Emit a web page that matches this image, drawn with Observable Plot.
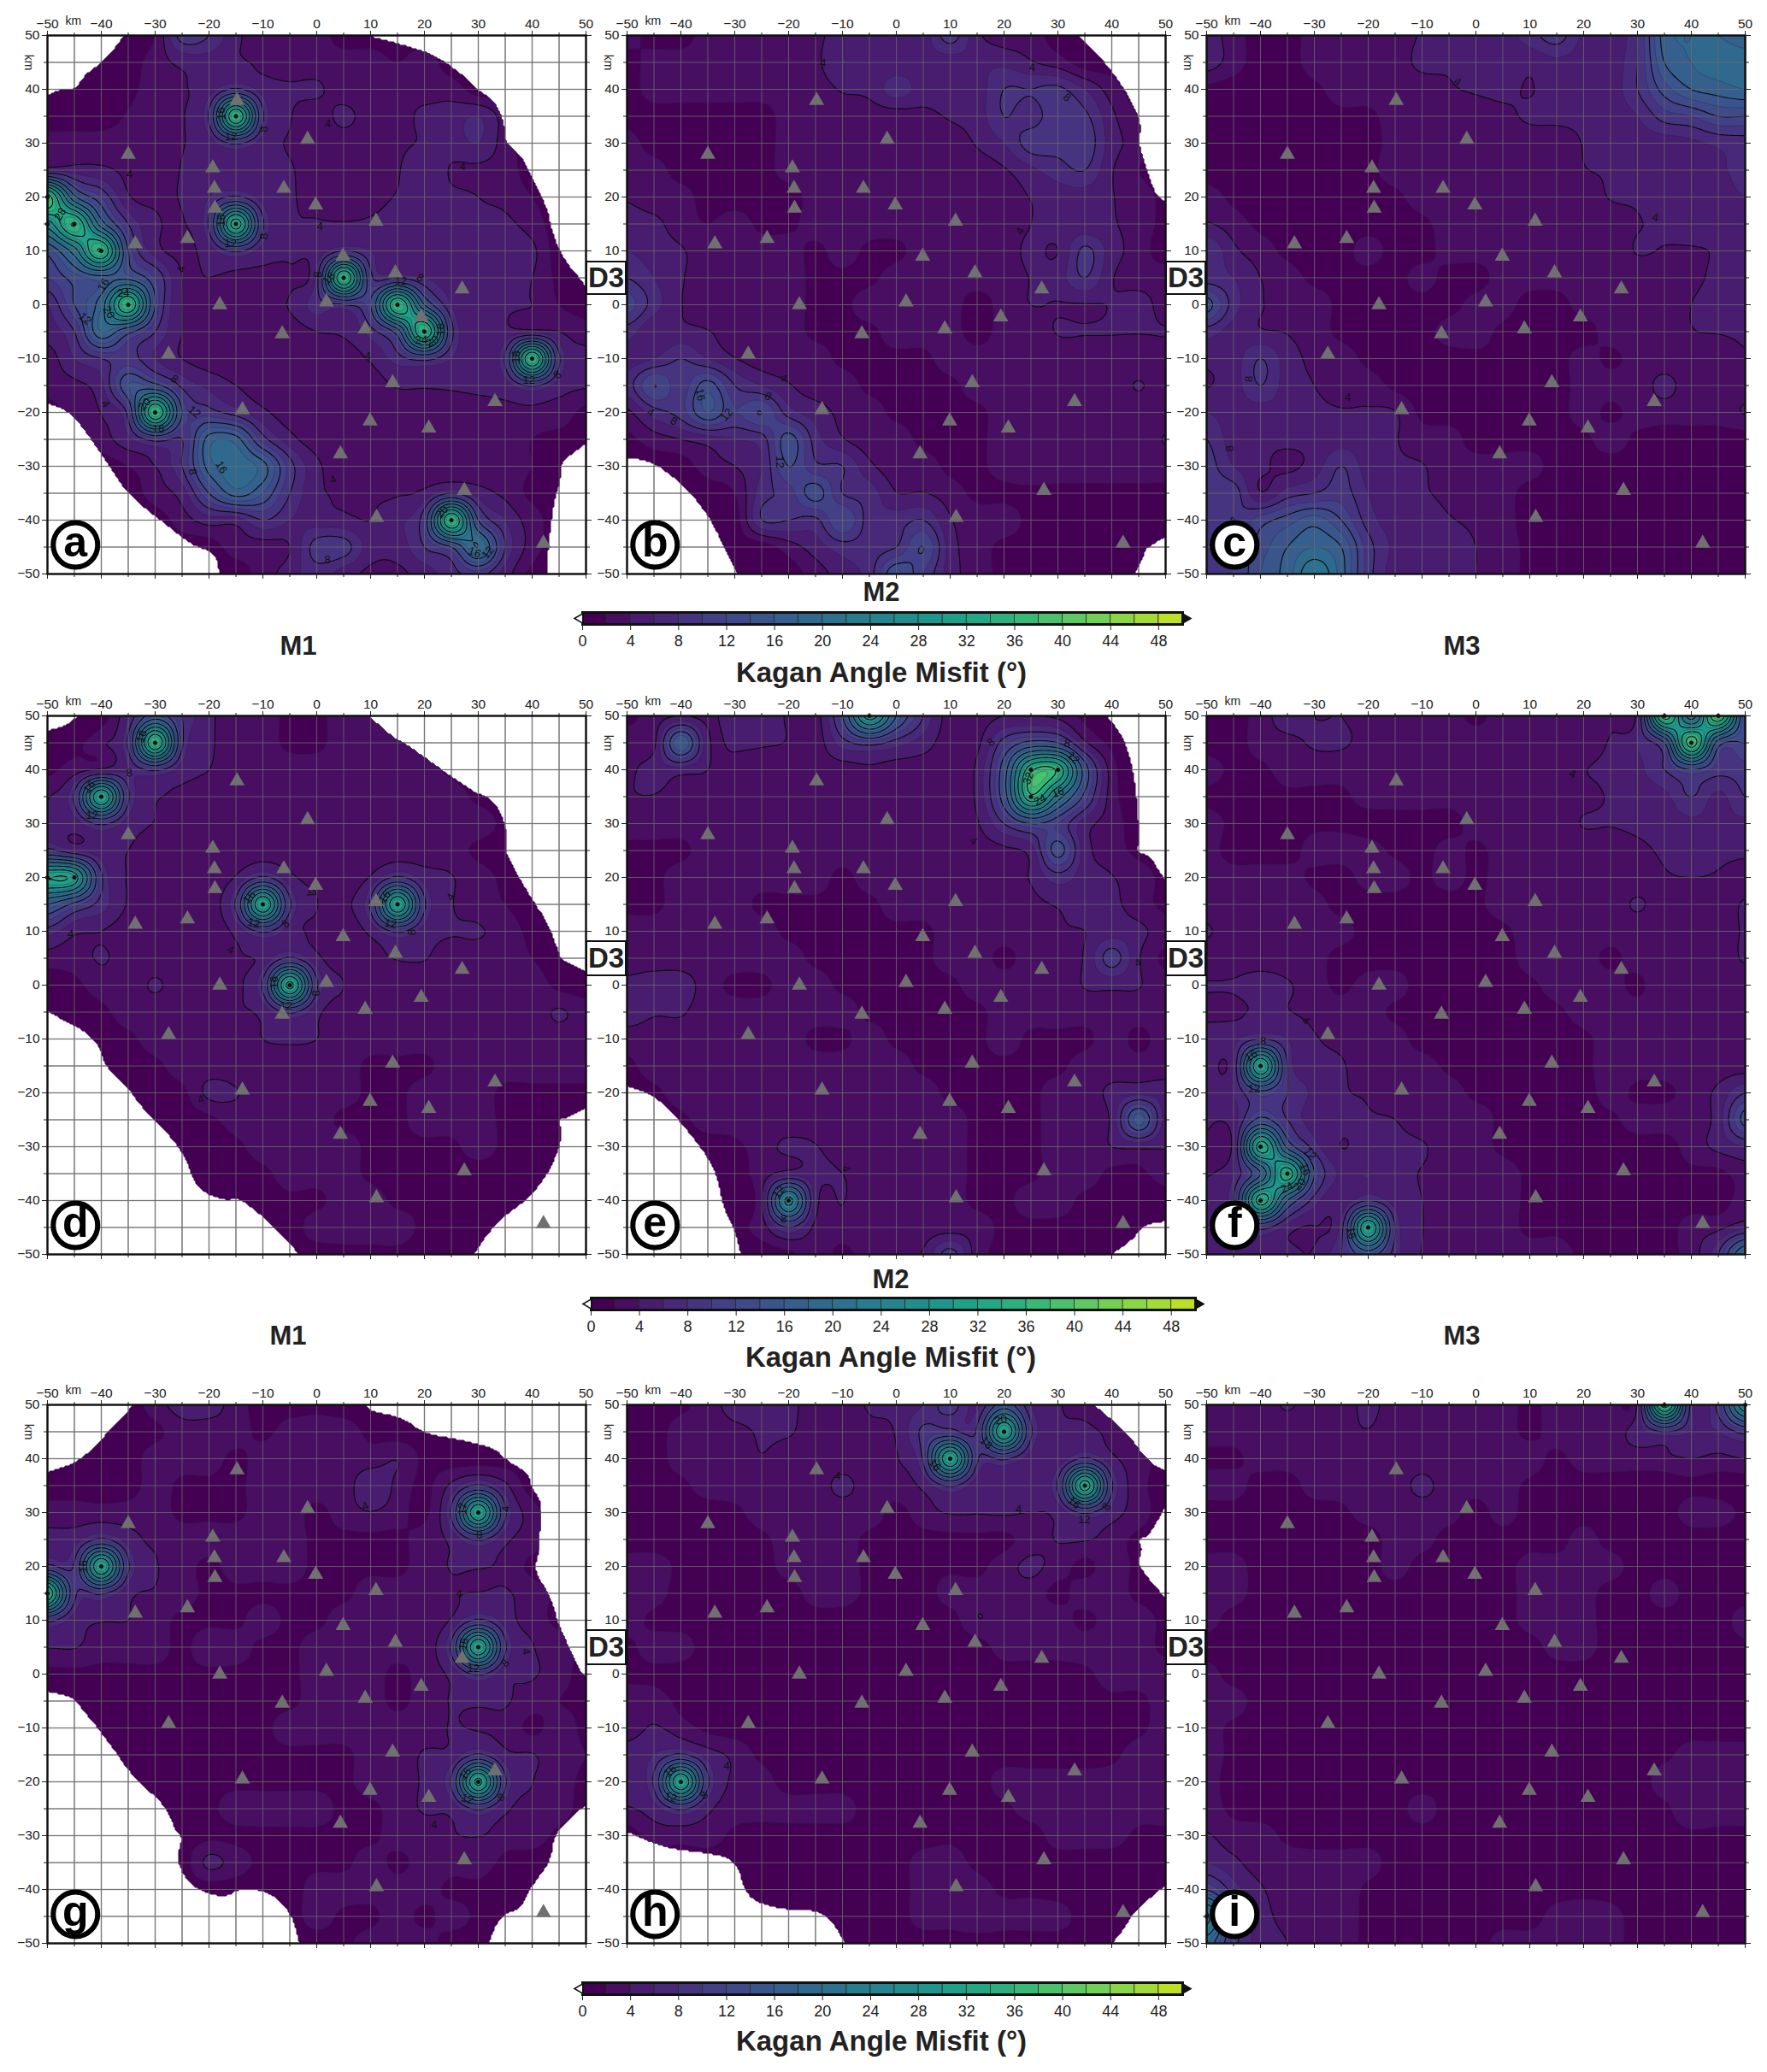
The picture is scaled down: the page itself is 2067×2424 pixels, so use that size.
<!DOCTYPE html>
<html><head><meta charset="utf-8">
<script src="https://cdn.jsdelivr.net/npm/d3@7"></script>
<script src="https://cdn.jsdelivr.net/npm/@observablehq/plot@0.6"></script>
<style>
html,body{margin:0;padding:0;background:#fff}
#page{position:relative;width:2067px;height:2424px;overflow:hidden;font-family:"Liberation Sans",sans-serif;color:#222}
#page>svg,#page>figure{position:absolute;margin:0}
.t{position:absolute;transform:translate(-50%,-50%);font-weight:bold;white-space:nowrap}
.d3{position:absolute;box-sizing:border-box;background:#fff;border:2px solid #111;display:flex;align-items:center;justify-content:center;font-weight:bold;font-size:33px;color:#222}
</style></head><body><div id="page"></div>
<script>
const tick10=[-50,-40,-30,-20,-10,0,10,20,30,40,50];
const tick5=[-45,-35,-25,-15,-5,5,15,25,35,45];
const stationX=[-14.8,-1.7,-35,-19.3,-19,-6.1,-18.9,-0.2,11,-24,-33.7,4.9,14.6,27,-18,1.8,19.4,-6.4,9,-27.5,14.1,33.1,-13.8,9.9,20.8,4.4,27.4,11.1,42.1];
const stationY=[37.9,30.7,27.9,25.4,21.6,21.6,17.9,18.5,15.5,12.3,11.3,9,5.9,2.9,0,0.5,-2.3,-5.4,-4.5,-9.2,-14.5,-18,-19.5,-21.6,-22.9,-27.7,-34.5,-39.5,-44.3];
const barTicks=[0,4,8,12,16,20,24,28,32,36,40,44,48];
const bandLow=d3.range(0,50,2);

// Misfit on the 5 km grid: rows y = 50 … -50, columns x = -50 … 50
const gridA=[
[1,1,1,1,2,9,8,4.5,3,3,3,1,1,1,1,1,1,1,1,1,1],
[1,1,1,1,3,4.5,5,4.5,3.5,3,3,3,3,2,3,1,1,1,1,1,1],
[1,1,1,1.5,3,3.8,5,8.5,5,4.3,4.3,3,3,3.9,3,3,1,1,1,1,1],
[1,1,1,2.2,3,3.8,8.5,36,8.5,4.2,3,4.5,3,3,4.6,5,6,3,1,1,1],
[3,3,3,3,3,3.9,5,8.5,5,3.8,3,3,3,3.5,4.3,5,6,3,1,1,1],
[5.5,5,4.5,3.5,3,4.1,5,5,5,4.2,3,3,3,3.8,6,3.8,3.5,3,1,1,1],
[38,17,10,4.3,3.5,4.2,6,8.5,5,4.3,3,3,3.5,4.1,4.5,4.5,4,3.5,2,1,1],
[26,36,18,8,4.5,3.8,8.5,34,8.5,4.5,4.2,4.2,4.3,4.5,4.5,6,4.5,4.5,3,1,1],
[13,22,36,12,5,3.5,5,8.5,5,4.5,4.5,8,6,5,5,4.5,4.5,6,4.5,1,1],
[10,13,15,15,10,4,4,3.5,3.5,3.5,7,36,9,8,6,5,6,4.5,4,1.5,1],
[6,12,18,36,12,4,3,3,3,4.2,7,8,12,36,16,6,4.5,4.3,4,2,1],
[5,8,18,13,8,4,3,2,3,3,4,4.5,7,14,36,9,5,4.5,5,4,3],
[3,6,8,9,6,4,3,3,3,3,3,3,4.3,7,9,6,4.8,8.5,36,8.5,4.5],
[3,3.5,5.5,14,13,7.5,5.5,4,3,3,3,3,3,4.2,4.3,4.3,4.5,5,8.5,5,4.2],
[1,3,4.1,9,36,12,9,7,4.5,3,3,3,3,3,3,3,3,3.5,3.5,3,1.5],
[1,1,3,5.5,9,8,17,17,9,4.8,3,3,3,3,3,3.9,3,3,2,1.5,1.5],
[1,1,1,2,4,8,17,19,17,9,4.5,3,3,3,3,3,3,3,2,1,1],
[1,1,1,1,3,5,12,17,14,8,4.5,3.8,3.8,3.8,4.5,8,5,3.5,1.5,1,1],
[1,1,1,1,1,3,5,5,8,6,5,4.5,4,5.5,10,36,12,6,3,1,1],
[1,1,1,1,1,1,1,3,3,4,9,9,5,5,8,12,20,8,3,1,1],
[1,1,1,1,1,1,1,1,3,5,7,5,3.5,3.5,5,7,9,5,1.5,1,1]];
const gridB=[
[3,1,1,3,3,3,3,3.5,5,5,4.5,5,9,4.5,3,3,1,1,1,1,1],
[1,3,3,3,3,3,3,3.5,6,4.5,4.5,5,5,5.5,5.5,4.2,3,1,1,1,1],
[1,3,3,3,3,3,3,3,4.2,4.5,7,5,5,5,8,8,8.5,6,3,1,1],
[1,1,1,1,1,1,3,3,3,3,3,3.5,4.2,5,8,7,9.5,8.5,4.5,2,1],
[3,1,1,1,1,1,3,3,3,3,3,3,3,4.2,6,9,9,9.5,5,3,1],
[3,3,1,1,1,1,3,3,3,3,3,3,3,3,3.8,5.5,7,8,4.2,2,1],
[3.8,3,3,1,1,1,1,3,3,3,3,3,3,3,3,4.1,5,5,4.1,3,1.5],
[5,4.5,3,2,3,1.5,1.5,3,3,3,3,3,3,3,3,4,5,4.5,4.2,3,1.5],
[6,5,4.2,3,3,3,3,1.5,3,1.5,1.5,3,3,3,3,4.5,4,8.5,5,3,1],
[8,6,4.2,3,3,3,3,1.5,1.5,1.5,3,3,3,3,3,4.1,5,8,4.2,3,3],
[11,7,4.1,3,3,3,3,1.5,1.5,3,3,3,3,1,3,4,3.9,3.9,4.1,5,3],
[7,4.2,4.5,4.1,3,3,3,1.5,1.5,1.5,3,3,3,1,3,3,4.1,4.1,4.1,4.1,4.1],
[5,6,8,6,4.1,3,3,3,1.5,1.5,1.5,1.5,3,3,3,3,3,3,3,3,3],
[7,12,9,13,8,6,4.2,3,3,1.5,1.5,1.5,1.5,3,3,3,3,3,3,4.1,3],
[3.5,7,9,14,10,12,7,5,3.5,3,1.5,1.5,1.5,1.5,3,3,3,3,3,3,3],
[1.5,3,4,5,6,7,13,7,4.2,3,3,1.5,1.5,1.5,3,3,3,3,3,3,4.1],
[1,1,1,3,4,6,12,8.5,8,4.5,3,3,1.5,1.5,3,3.5,3,3,3,3,3],
[1,1,1,1,2,7,9,13,8,7,4.1,4.1,3,1.5,1.5,1.5,1.5,1.5,1.5,1.5,1.5],
[1,1,1,1,1,7.9,8,7.5,12,7,7,8,4.2,3,3,1.5,1.5,1.5,1.5,1.5,1.5],
[1,1,1,1,1,1,3,5,7,7,8,12,5,3,1.5,1.5,1.5,1,1,1,1],
[1,1,1,1,1,1,1,3,5,7,14,10,5,3,1.5,1.5,1,1,1,1,1]];
const gridC=[
[5,3,1,1,3,3,3,3,4.2,4.5,4.5,5,7,9,5.5,4.5,8,17,18,18,17],
[5,3,1,1,3,3.5,3,3,4.5,4.2,4.5,5,4.5,5.5,5,5,8,16,18,19,19],
[1.5,1,1,1,1.5,3,3,3,3,3.8,4.2,4.5,3.9,5,5,5,8,13,16,17,18],
[1,1,1,1,1,1.5,1.5,3,3,3,3,3.5,4.3,4.5,4.5,5,6,9,10,12,12],
[1,1,1,1,1,1,1,3,3,3,3,3,3,3,4.1,5,5,5,5.5,6.5,7],
[1,1,1,1,1,1,1.5,3,3,3,3,3,3,3,3.9,4.2,4.5,5,5,5.5,7],
[3,1.5,1,1,1,1,1,1.5,3,3,3,3,3,3,3,4.1,4.2,4.5,5,5,6],
[4.2,3,1.5,1.5,1,1,1,1,1.5,3,3,3,3,3,3,3,3.9,4.2,4.5,4.5,5],
[8,4.5,3,1.5,1,1,3,1,1,3,3,3,3,3,3,3,4.1,3.9,3.9,4.1,4.5],
[7,6,4,3,1.5,1.5,1,1,3,1,1,3,3,3,3,3,3,3,3.5,4.5,5],
[13,7,4.2,3.5,3,1.5,1,1,1,1,3,3,1,1,3,3,3,3,4,5,5],
[7,5,4.2,3.9,3,1.5,1,1,1,3,3,1.5,1,1,1,3,3,3,3.9,4.1,4.3],
[4.5,5,8,5,3.5,3,1.5,1,1,1,1.5,1.5,1,1,3,1.5,3,3,3,3,3.8],
[3.9,5,8,5,4,3,3,1.5,1,1,1,1,1,1,3,3,3,4.5,3,3,3],
[6,5,5,5,4.5,4.2,4.2,4.1,1.5,1,1.5,1,1,1,3,1.5,3,3,3,3,4.1],
[8,5,4.5,4.5,4.5,5,4.5,4.1,3,3,1,1,1,1,1.5,3,1.5,1,1,1,1],
[9,6,4.5,3.5,5,8,5,4.2,4.1,3,3,3,3,1,1,1,1,1,1,1,1],
[9,9,4.2,7,8,9,6,4.2,4.2,3.5,3,3,1,1,1,1,1,1,1,1,1],
[10,8,11,13,15,12,7,5,5,4.2,3.5,3,1,1,1,1,1,1,1,1,1],
[10,10,13,16,18,16,9,5.5,5,5.5,4,3,1.5,1,1,1,1,1,1,1.5,1],
[10,10,14,17,22,17,9,5,5,5,4,3,1.5,1,1,1,1,1,1,1,1]];
const gridD=[
[1,1,1,6,14,8,4.5,3,3,1.5,1.5,3,3,1,1,1,1,1,1,1,1],
[1,1.5,3.5,8.5,36,8.5,4.5,3,3,1.5,1.5,3,3,3,1.5,1,1,1,1,1,1],
[1.5,3,4.5,6,8.5,5,4,3,3,3,3,3,3,3,3,1.5,1,1,1,1,1],
[3.8,8.5,32,8.5,4.5,3.5,3,3,3,3,3,3,3,3,3,3,1.5,1,1,1,1],
[4.5,5,8.5,5,3.9,3,3,3,3,3,3,3,3,3,3,3,3,1.5,1,1,1],
[9,6,5,4,3,3,3,3,3,3,3,3,3,3,3,3,1.5,1,1,1,1],
[32,30,8.5,3.8,3,3,3,4.2,8.5,4.5,3.5,3,4.2,8.5,5,4.1,3,1.5,1,1,1],
[16,11,7,3.8,3,3,3,8.5,32,8.5,4.1,3.5,8.5,32,8.5,4.2,3,2,1,1,1],
[7,4.5,4,3,3,3,3,4.5,8.5,5,3.5,3,4.5,8.5,5,4.2,4.2,3,1.5,1,1],
[3,3,4.2,3,3,3,3,3.8,4.5,8.5,4.5,3,3,4.2,4.1,3,3,3,2,1,1],
[1,1.5,3,3,4.2,3,3,3.5,8.5,33,8.5,4,3,3,3,3,3,3,3,1.5,1],
[1,1,1.5,3,3,3,3,3.8,4.5,8.5,4.5,3,3,3,3,3,3,3,3,4.2,3],
[1,1,1,1.5,3,3,3,3,4,4.5,4,3,3,3,3,3,3,3,3,3,3],
[1,1,1,1,1.5,3,3,3,3,3,3,3,1.5,1.5,1.5,3,3,3,3,3,3],
[1,1,1,1,1,1.5,4.5,4.1,3,3,3,3,1.5,1.5,3,3,3,1.5,1.5,1.5,1.5],
[1,1,1,1,1,1,1.5,3,3,3,3,1.5,1.5,1.5,3,3,3,1.5,1,1,1],
[1,1,1,1,1,1,1,1.5,3,3,3,3,1.5,1.5,1.5,1.5,3,1.5,1,1,1],
[1,1,1,1,1,1,1,1,1.5,3,3,3,1.5,1,1,1,1,1,1,1,1],
[1,1,1,1,1,1,1,1,1,1.5,1.5,3,3,1.5,1.5,1,1,1,1,1,1],
[1,1,1,1,1,1,1,1,1,1,3,3,3,3,1.5,1,1,1,1,1,1],
[1,1,1,1,1,1,1,1,1,1,1,1.5,1.5,1.5,1,1,1,1,1,1,1]];
const gridE=[
[1.5,3,4,3.5,5,5,3.8,3,12,30,16,8,3,3,4,4,3.5,1.5,1,1,1],
[3,3.5,16,4.5,4.5,4.2,3.9,3,7,9,7,5,3,3.5,9,13,12,4.5,1.5,1,1],
[3.5,5,5,4,3,3,3,3,3,3.5,3,3,3,4.5,14,35,35,14,3,1,1],
[3.9,3.9,3,3,3,3,3,3,3,3,3,3,3,4.5,14,35,22,11,3,1,1],
[3,3,3,3,3,3,3,3,3,3.5,3,3,3,3.8,8,12,10,5,3,1,1],
[1.5,1.5,1.5,3,3,3,3,3,3,3,3,3,3,3,3.5,5,13,5,3,1.5,1],
[1.5,1.5,3,3,3,3,3,3,1.5,3,3,3,3,3,3,4.2,7,5,4.1,3,1.5],
[1.5,1.5,3,3,3,1.5,1.5,1.5,1.5,1.5,3,3,3,3,3,3.5,4.2,5,4.5,3,1.5],
[3,3,3,3,3,3,1.5,1.5,1.5,1.5,1.5,1.5,3,3,3,3,3.8,4,5,4.5,3],
[3,3,3,3,3,3,3,1.5,1.5,1.5,1.5,1.5,3,3,1.5,3,3.5,4.2,9,4.2,1.5],
[4.5,5,5,3,1.5,1.5,3,3,1.5,1.5,1.5,1.5,1.5,3,3,3,3,4.1,4.5,4.1,3],
[5,4.2,4.2,3,3,3,3,3,3,1.5,1.5,1.5,1.5,1.5,3,3,3,3,3,3,3],
[3,3,3,3,3,3,3,1.5,1.5,3,1.5,1.5,1.5,1.5,3,1.5,1.5,1.5,3,1.5,3],
[1.5,3,3,3,3,3.9,3,3,3,3,3,1.5,1.5,1.5,1.5,1.5,1.5,3,3,3,3],
[1,1.5,3,3,3,3,3,3,3,3,3,3,1.5,1.5,1.5,1.5,3,3,4.5,5.5,5],
[1,1,1.5,3,3,3.9,3,3,3,3,3,3,3,1.5,1.5,1.5,3,3,4.5,15,5],
[1,1,1,1,1.5,3,4.5,4.1,3,3,3,3,3,1.5,1.5,1.5,3,3,4,4.5,4.1],
[1,1,1,1,1,3,5,4.5,4,3,3,3,3,1.5,1.5,1.5,3,3,1.5,1.5,3],
[1,1,1,1,1,4,25,5,4.1,3,3,3,3,1.5,1.5,3,3,1.5,1.5,1,1],
[1,1,1,1,1.5,3,8,3.5,3,3.9,3,3,3,3,1.5,1.5,1.5,1.5,1,1,1],
[1,1,1,1,1,1,1.5,3,1.5,3,3,4.2,9,3,1.5,1.5,1.5,1.5,1.5,1,1]];
const gridF=[
[1,1,3,5,4,4,3.5,3.9,3.9,3,1.5,3,3,3,3,3.5,5,38,18,40,12],
[1,1,3,3.5,4.2,4.2,3.5,3,3,3,3,3,3,3,3,4.2,6,12,38,14,12],
[3,1.5,1.5,3,3,3,3,3,3,3,3,3,3,3,3.9,4.5,5.5,8,12,9,9],
[1.5,1,1,1.5,1.5,1.5,3,3,3,3,3,3,3,3.9,3.5,4.2,5,5.5,8,5.5,8],
[3,1.5,1,1,1.5,1.5,1,1,1,1,3,3,3,3,4.1,4.1,4.5,5,5.5,5.5,5.5],
[3,1,1,1,3,3,3,1.5,1,3,1.5,3,3,3.9,3,3,3.5,4.3,4.5,4.5,4.5],
[3,3,3,3,1.5,1,3,3,1.5,3,1.5,3,3,3,3,3,3,3.8,4,3.8,3],
[3,3,3,3,3,1,1,1,1,1,1.5,3,3,3,3,3,4.2,3,3,3,4.2],
[4.2,3,3,3,3,3,1,1,1,1,1,1.5,3,3,3,3,3,3,3,3,4.2],
[3,3,3,3,3,1,1,1,1,1,1,1,3,3,3,1.5,3,3,3,3,4.2],
[4.1,4.2,5,4.2,3,1.5,3,3,1,1,1,1,1.5,3,3,3,1.5,3.9,3,3,3],
[3.5,3.5,4.5,4.1,3.5,3,3,1.5,1,1,1,1,1,1.5,3,3,3,3,3,3,3],
[5,5.5,8,6,4.2,3.5,3,3,1,1,1,1,1,1,1.5,3,3,3,3,3,3],
[5,6,32,8,5,4.2,3,3,3,1.5,1,1,1,1,1.5,3,3,3,3,3,3],
[4.1,6,11,8,5.5,4.2,3.8,3,3,3,1.5,1.5,1,1,1,3,1.5,1.5,3,4.5,8],
[4.1,5,13,8,5,4.5,4.2,4,3,3,3,1.5,1,1,1,1.5,3,3,3,5,13],
[3.8,5,34,15,7,4,5,4.5,4.2,3,3,1.5,1,1,1,1,1,1,3,4.5,6],
[3.8,6,16,34,12,5.5,6,4.5,3.9,3,3,3,1.5,1,1,1,1,1,1.5,1.5,3],
[6,8,34,16,7,4.5,8,5,4,3,3,3,1.5,1,1,1,1,1,1,1,3],
[5,6,9,5,3.9,7,32,8,4.1,3,3,3,1.5,1.5,1,1,1,1,3,3.5,5.5],
[5,4.5,5,4.5,4.2,8,14,7,3.9,3,3,3,3,3,1.5,1.5,1.5,1.5,3,8,20]];
const gridG=[
[1,1,1,1,3,5,5,3,1,1,1.5,1,1,1,1,1,1,1,1,1,1],
[1,1,1,1,1.5,3,3,3,1.5,3,3,3,1.5,1,1,1,1,1,1,1,1],
[1,1,1,1,3,3,3,1.5,3,3,3,3,3,3.9,1.5,1,1,1,1,1,1],
[1,1,1,1,3,1.5,1.5,1.5,3,3,3,3,5.5,3.5,1.5,4.5,8.5,4.5,1,1,1],
[3,3,3,3,3,1.5,1.5,1.5,3,3,1.5,3,3.9,3,1.5,8.5,32,8.5,3,1,1],
[5,5,8.5,5,3.5,3,3,3,3,3,1.5,1.5,1.5,1.5,3,4.5,8.5,4.5,3,1,1],
[9,8.5,32,8.5,4.3,3,1.5,3,3,3,1.5,1.5,1.5,1.5,3,4.1,4.2,3.5,1.5,1,1],
[36,9,8.5,4.5,3.8,3,1.5,1.5,1.5,1.5,1.5,1.5,3,3,3,3.8,4.1,4.2,3,1.5,1],
[9,5,4.2,4,3,1.5,1.5,1.5,3,1.5,1.5,3,3,3.9,3,4.2,8.5,5,3,1.5,1],
[4.1,4.1,3,3,3,1.5,3.5,3,1.5,1.5,3,3,3,3,3,8.5,32,8.5,4.2,3,1.5],
[1.5,1.5,1.5,1.5,1.5,1.5,1.5,1.5,1.5,1.5,3,3,3,1.5,3,4.5,8.5,4.5,4.2,3,1],
[1,1,1.5,1.5,1.5,1.5,1.5,1.5,1.5,1.5,3,3,3,1.5,3,4.1,4.5,4.2,3,2,1.5],
[1,1,1,1.5,1.5,1.5,1.5,1.5,1.5,3,3,3,3,3,3,4.1,3.8,3.5,1.5,3,1.5],
[1,1,1,1,1.5,1.5,1.5,1.5,1.5,1.5,1.5,1.5,3,3,4.2,4.5,8.5,4.5,4.1,3,2],
[1,1,1,1,1,1.5,1.5,1.5,1.5,1.5,1.5,1.5,3,3,4.5,8.5,33,8.5,4.1,3,1.5],
[1,1,1,1,1,1,1.5,3,3,3,3,1.5,1.5,3,4.2,4.5,8.5,4.5,3,3,1],
[1,1,1,1,1,1,1.5,1.5,1.5,1.5,1.5,1.5,1.5,3,3,3.8,4.1,3,3,1.5,1],
[1,1,1,1,1,1,4.5,3,1.5,1.5,1.5,1.5,3,1.5,3,3,3,1.5,1,1,1],
[1,1,1,1,1,1,1,1,1,1,3,3,3,3,3,1.5,1.5,1,1,1,1],
[1,1,1,1,1,1,1,1,1,1,3,1.5,1.5,3,1.5,3,1.5,1,1,1,1],
[1,1,1,1,1,1,1,1,1,1,1,1.5,3,3,3,1,1,1,1,1,1]];
const gridH=[
[1,1,1.5,3,4.8,4.5,4.5,3,3,4.2,4.5,6,9,5.5,14,6,4.2,3,1,1,1],
[1,1,3,3,3.5,4.2,4.2,3,3,3.5,4.2,8.5,9,8.5,32,8.5,4.5,5,3,1.5,1],
[1,1,3,3,3,3.9,3,3,3,3,3.8,8.5,32,8.5,8.5,5,4.5,8.5,4.5,3,1],
[1,1,1.5,3,3,3,3,3,4.5,3,3,4.5,8.5,4.5,4.5,4.5,8.5,34,8.5,3,1],
[1,1,1,1,1.5,3,3,3,3,3,1.5,3,4.2,4.1,4.2,4,4.5,8.5,5,3,1],
[1,1,1,1,1,1.5,3,3,3,1.5,1.5,1.5,1.5,1.5,1.5,3,4.1,4.2,3,1.5,1],
[3,3,1.5,1,1,1,3,3,3,1.5,1.5,1.5,1.5,1.5,3,4.5,3,1.5,3,1.5,1],
[3,3,1,1,1,1,1,3,3,1.5,1,1,3,3,3,3,1.5,3,3,1.5,1],
[3,1.5,1,1,1,1,1,1,1,1,1,1,1,3.9,3,3,3,1.5,3,3,1.5],
[1.5,3,3,1,1,1.5,1,1,1,1,1,1,1,1,3,3,3,3,3,3,1.5],
[1.5,1.5,1,1,1,1,1,1,1,1,1,1,1,1,1,1,1,1.5,3,3,3],
[3,3,1.5,1,1,1,1,1,1,1,1,1,1,1,1,1,1,1,1.5,1.5,3],
[3,4.2,3,1.5,1,1,1,1,1,1,1,1,1,1,1,1,1,1,1,1.5,3],
[5,6,8.5,5,3.5,1.5,1,1,1,1,1,1,1,1,1,1,1,1,1.5,3,3],
[5,8.5,32,8.5,3.5,3,1,1,1,1,1,1,1,1,3,3,3,3,3,3,3],
[3.8,5,8.5,4.5,3,3,3,3,3,1,1,1,1,1,1.5,3,3,3,3.9,3,3],
[1,3,3,3,1.5,1,1,1,1,1.5,1,1,1.5,1,1,1,3,3,3,1.5,1.5],
[1,1,1,1,1,1,1,1,1,1,1,3,3,1.5,1,1,1,1,1,1,1],
[1,1,1,1,1,1,1,1,1,1,1,3,3,3,1.5,1.5,1,1,1.5,1,1],
[1,1,1,1,1,1,1,1,1,1,1,3,3,3.8,3,3,3,1,1,1,1],
[1,1,1,1,1,1,1,1,1,1,1,1,1,1,1,1,1,1,1,1,1]];
const gridI=[
[3,3,3,4.2,3,3,4.5,3,3,3,3,3,1.5,3,3,3,4.5,38,7,9,28],
[3,3,3,3,3,3.5,3.9,3,3,3,3,3,1.5,3,3,3,5,8,6,6,9],
[1.5,1.5,3,3,3,3.9,3,3,3,3,3,3,3,1.5,3,3,3,3.5,4,3.5,4],
[3,3,1,1,3,3,3,3,4.5,3,3,3,1.5,1,1,1,1,1,1.5,1,1],
[1,1,1,1,1,1.5,3,3,3,3,1,3,1,1,1,1,1,1,3,3,1.5],
[1,1,1,1,1,1,1,3,3,1,1,1,1,1,3,1,1,1,1,1,1],
[3,3,1,1,1,1,1,3,1,1,1,1,3,3,3,3,1,1,1,1,1],
[3,3,1,1,1,1,1,1,1,1,1,1,3,3,3,1,1,3,1,1,1],
[3,1,1,1,1,1,1,1,1,1,1,1,3,3.9,3,1,1,1,1,1,3],
[1,1,1,1,1,1,1,1,1,1,1,1,1,3,3,1,1,1.5,1,1,1.5],
[3,1,1,1,1,1,1,1,1,1,1,1,1,1,1,1,1,1,1,1,1],
[3,3,1,1,1,1,1,1,1,1,1,1,1,1,1,1,1,1,1,1,1],
[3,1.5,1,1,1,1,1,1,1,1,1,1,1,1,1,1,1,1,1,1,1],
[3,1.5,1,1,1,1,1,1,1,1,1,1,1,1,1,1,1,1.5,3,3,3],
[3,1,1,1,1,1,1,1,1,1,1,1,1,1,1,1,1,3,3,3,3],
[3,1.5,1,1,1,1,1,1,3,1,1,1,1,1,1,1,1,1.5,3.9,3,3],
[4.2,3,3,1.5,1,1,1,1,1,1,1,1,1,1,1,1,1,1,1.5,1.5,1.5],
[6,4.5,3,3,3,3,3,1,1,1,1,1,1,1,1,1,1,1,1,1,1],
[12,7,4.3,3,3,3.5,1.5,1,1,1,1,1,1,1,1,1,1,1,1,1,1],
[25,10,5,3.5,3,3,1.5,1,1,1,1,1,1,3,3.9,3,1,1,1,1,1],
[18,9,5,4,3,3,1.5,1,1,1,1,3,3,3,3,3,1,1,1,1,1]];

// Outline of the covered area in km (null = whole panel)
const outlineA=[[-50,-18.5],[-50,39],[-47,40.5],[-45,40],[-43,43],[-40,45],[-37,48.5],[-36,50],[10,50],[16,48.5],[22,46.5],[27,43],[30,40],[33,38],[35,34],[35,30],[38,28],[40,24],[43,18],[44,13],[46,8.5],[49,5],[50,3.5],[50,-26],[45.3,-29.4],[45.6,-32],[44,-37.5],[43,-47],[43,-50],[-18.2,-50],[-19,-46],[-23,-45],[-28,-41],[-35,-35.5],[-38,-31],[-42,-25],[-45,-21],[-47,-19.5]];
const outlineB=[[-50,-28.7],[-50,50],[34,50],[37.6,46.6],[42.4,40.5],[45.8,33.7],[45,30],[46.8,24.9],[48.5,20],[50,19.5],[50,-43.3],[46.4,-45.3],[46,-47],[44.4,-50],[-29.6,-50],[-31.6,-46.3],[-34.4,-40.2],[-38.4,-34.8],[-43.2,-30.7],[-46.5,-29]];
const outlineD=[[-50,-4.8],[-50,47.5],[-46.7,48.3],[-44.5,50],[9.8,50],[14.4,46],[16.5,45],[24.3,39.4],[29.3,36],[32,35],[34.6,32],[35.7,27],[35,24.8],[40.3,15.6],[42.8,12.2],[45.2,6],[45.2,5],[50,2.7],[50,-23],[46.3,-25],[44.9,-24.8],[46,-27.8],[43.5,-34.6],[39.2,-40],[33.5,-44],[29.3,-50],[-3.4,-50],[-9,-44],[-14.7,-39.4],[-16.8,-40.4],[-22.5,-38],[-25,-30.5],[-32.5,-23],[-35,-19.3],[-39.6,-15],[-41,-9.8],[-49.5,-5.4]];
const outlineE=[[-50,-19],[-50,50],[39.3,50],[42.4,46],[44.4,39.4],[45.4,27],[44.7,24.8],[47,24.4],[49.5,20.4],[50,19.7],[50,-44],[45.7,-44.8],[44.4,-47],[40.3,-50],[-29,-50],[-30.3,-45],[-32.3,-41.4],[-33.7,-34],[-39.8,-25.8],[-45.2,-20.4]];
const outlineG=[[-50,-3.4],[-50,37.7],[-44.5,39.4],[-40.3,43.4],[-34.2,50],[9.4,50],[10,49],[15.8,47.9],[20,44.8],[26.4,43.8],[33.5,42],[35,40],[39.6,37.3],[40,34.6],[41.7,32.6],[42,28.5],[41.3,25],[41.3,21],[40.3,20],[44.2,13],[44.9,9.5],[49,0.7],[50,-0.3],[50,-24.4],[44.2,-29.5],[43.8,-34.6],[39.6,-40],[37.8,-44],[34.2,-44.8],[32.1,-50],[-3.4,-50],[-4.8,-44.5],[-9,-40.4],[-14.7,-40],[-16.9,-41.8],[-23.2,-40],[-26.4,-34.6],[-25,-30.2],[-26.4,-29.2],[-28.2,-24.4],[-33.9,-19.7],[-39.6,-11.5],[-44.2,-6],[-45.2,-4.4]];
const outlineH=[[-50,-29.5],[-50,50],[36.9,50],[43,44.8],[47,39.4],[50,38],[50,30.9],[47,25.4],[45,25],[46,23],[44.7,20.4],[50,14.3],[50,-39.4],[44.4,-44],[42.7,-47],[40.3,-50],[-9.6,-50],[-13.3,-44],[-21.4,-44],[-28.2,-41.6],[-29.6,-34.6],[-35.7,-33.3],[-42.5,-32.6]];

// Contour annotations: x, y, label, rotation
const labelsA=[[-17.8,35.5,"16",-90],[-15.9,31.2,"12",0],[-9.8,32.6,"8",-90],[2.1,33.6,"4",0],[-34.8,24.2,"4",0],[-47.6,16.8,"28",-60],[-17.8,15.7,"16",-90],[-16,11.3,"12",0],[-9.8,12.7,"8",-90],[0.6,14.6,"4",0],[-25.2,6.6,"4",-90],[0.2,5.6,"8",-90],[2.3,4.9,"16",-45],[15.6,4.4,"12",0],[19.2,5,"8",30],[27.1,25.7,"4",0],[-39.6,3.7,"16",-60],[-35.9,2.2,"24",0],[-38.6,-1.4,"20",60],[-43,-2.6,"12",40],[23,-4.6,"16",-90],[19.4,-6.6,"24",0],[21.5,-6.8,"20",-30],[37,-9.7,"16",-90],[39.4,-14,"12",0],[44.7,-13,"8",-45],[9.5,-9.6,"4",0],[-26.4,-13.8,"8",35],[-31.9,-18.5,"20",-50],[-22.7,-19.9,"12",40],[-29.4,-23.1,"16",0],[-39.2,-18.4,"4",60],[-17.7,-30.2,"16",60],[-23,-31,"8",80],[3,-32.5,"4",-25],[23.3,-38.5,"20",-50],[29.3,-46,"16",20],[31.8,-46,"12",-50],[2,-47.4,"8",0]];
const labelsB=[[-13.6,44.8,"4",0],[25.2,44.1,"4",0],[31.7,38.5,"8",40],[23,13.7,"4",-60],[-21,-13.6,"4",40],[-23.8,-17,"8",30],[-36.4,-16.7,"16",80],[-31.5,-20.4,"12",-50],[-45.6,-20,"4",30],[-41.3,-21.6,"8",30],[-21.7,-29.2,"12",90]];
const labelsC=[[-3.4,41.4,"4",30],[33.3,16.2,"4",10],[-42.2,-13.8,"8",-90],[-23.8,-17.2,"4",0],[-45.6,-26.7,"8",-90]];
const labelsD=[[-32.5,46.2,"16",-70],[-34.8,39.4,"8",-10],[-42.2,36.8,"16",-50],[-41.7,31.6,"12",0],[-45.7,9.5,"4",0],[-12.5,16.3,"16",-50],[-11.7,11.5,"12",15],[-5.8,11.4,"8",-40],[-1.2,17,"4",90],[-16,6.6,"4",30],[12.6,16.4,"16",-50],[13.7,11.4,"12",10],[17.6,9.8,"8",-90],[24.9,16.4,"4",-60],[-7.9,0.5,"16",-90],[-5.7,-3.9,"12",0],[-0.1,-1.5,"8",-90],[-21.5,-21.2,"4",-20]];
const labelsE=[[17.6,45.1,"8",-40],[31.7,44.9,"8",10],[32.9,42.2,"12",45],[24.5,38.4,"32",-70],[30,35.8,"16",-20],[26.7,34.4,"24",-30],[14.3,26.8,"4",40],[-9.4,-34.1,"4",70],[-21.8,-38.4,"12",-50],[-20.9,-43.4,"8",0],[44.9,4.1,"4",-30]];
const labelsF=[[17.9,39.2,"4",20],[-31.6,-6.6,"4",40],[-39.5,-10.4,"8",0],[-41.7,-13.1,"16",-30],[-41.2,-19.3,"12",0],[-30.8,-31.3,"12",50],[-31.7,-34.2,"16",70],[-35.1,-37.6,"24",-25],[-32.7,-37,"20",-50],[-23.1,-46,"16",80]];
const labelsG=[[-43.3,20,"16",-90],[9,31.2,"4",-20],[27.1,30.7,"12",-90],[35.2,30.7,"4",-90],[30.2,25.9,"8",0],[26.4,14.9,"4",10],[27.3,5.6,"16",-80],[29.1,1,"12",0],[35,2,"8",-50],[38.9,4.2,"4",80],[27.6,-18.5,"16",-50],[28,-23.2,"12",15],[34.2,-22.9,"8",-40],[21.8,-28,"4",0]];
const labelsH=[[19.4,47.2,"20",-15],[16.7,42.9,"18",45],[7.1,38.8,"16",50],[-10.9,36.8,"4",0],[22.7,30.6,"4",0],[33,31.8,"16",40],[39,31.1,"8",-50],[34.9,28.7,"12",0],[-42,-18,"16",-40],[-41.9,-22.9,"12",15],[-35.7,-22.5,"8",-45],[-31.5,-17,"4",0]];
const labelsI=[];

const bandColors=bandLow.map((d,i)=>d3.interpolateViridis(0.9*i/24));
const colorScale={type:"threshold",domain:bandLow.slice(1),range:bandColors};
const minus=d=>String(d).replace("-","\u2212");
const page=document.getElementById("page");
const font='"Liberation Sans",sans-serif';

function catmull(a,b,c,d,t){return b+.5*t*(c-a+t*(2*a-5*b+4*c-d+t*(3*(b-c)+d-a)));}
// Round the corners of an outline; vertices on the panel border stay where they are
function rounded(outline){
  if(!outline) return null;
  let p=outline;
  for(let k=0;k<2;k++){
    const q=[],n=p.length;
    p.forEach((a,i)=>{
      if(Math.abs(a[0])===50||Math.abs(a[1])===50){q.push(a);return;}
      const z=p[(i-1+n)%n],b=p[(i+1)%n];
      q.push([a[0]+(z[0]-a[0])*.25,a[1]+(z[1]-a[1])*.25]);
      q.push([a[0]+(b[0]-a[0])*.25,a[1]+(b[1]-a[1])*.25]);
    });
    p=q;
  }
  return p;
}
function sampler(grid,outline){
  const at=(r,c)=>grid[Math.max(0,Math.min(20,r))][Math.max(0,Math.min(20,c))];
  const poly=rounded(outline);
  return (x,y)=>{
    if(poly&&!d3.polygonContains(poly,[x,y])) return NaN;
    const u=(x+50)/5,v=(50-y)/5,c=Math.floor(u),r=Math.floor(v),tu=u-c,tv=v-r;
    const row=k=>catmull(at(k,c-1),at(k,c),at(k,c+1),at(k,c+2),tu);
    return Math.max(0.05,catmull(row(r-1),row(r),row(r+1),row(r+2),tv));
  };
}
const ML=50,MT=30,S=630;
function panel(left,top,grid,outline,labels,letter){
  const f=sampler(grid,outline);
  const cache=new Map();
  const value=(x,y)=>{const k=x+"|"+y;let v=cache.get(k);if(v===undefined){v=f(x,y);cache.set(k,v);}return v;};
  const box={x1:-50,y1:-50,x2:50,y2:50,pixelSize:2};
  const peaks=[];
  grid.forEach((row,r)=>row.forEach((v,c)=>{if(v>=24)peaks.push({x:-50+5*c,y:50-5*r});}));
  const svg=Plot.plot({
    width:ML+S+12,height:MT+S+12,marginLeft:ML,marginTop:MT,marginRight:12,marginBottom:12,
    style:{background:"transparent",overflow:"visible",fontFamily:font,color:"#222"},
    x:{domain:[-50,50],axis:null},y:{domain:[-50,50],axis:null},color:colorScale,
    marks:[
      Plot.ruleX(tick10.concat(tick5),{x:d=>d,stroke:"#a8a8a8",strokeWidth:1.6}),
      Plot.ruleY(tick10.concat(tick5),{y:d=>d,stroke:"#a8a8a8",strokeWidth:1.6}),
      Plot.contour({...box,value,fill:"value",thresholds:bandLow}),
      Plot.contour({...box,value,stroke:"#20203a",strokeOpacity:.55,strokeWidth:.6,fill:"none",thresholds:d3.range(2,50,4)}),
      Plot.contour({...box,value,stroke:"#0a0a0a",strokeWidth:1.1,fill:"none",thresholds:d3.range(4,50,4)}),
      Plot.ruleX(tick10.concat(tick5),{x:d=>d,stroke:"#6a6a6a",strokeOpacity:.8,strokeWidth:1}),
      Plot.ruleY(tick10.concat(tick5),{y:d=>d,stroke:"#6a6a6a",strokeOpacity:.8,strokeWidth:1}),
      Plot.dot(peaks,{x:"x",y:"y",r:2.5,fill:"#111"}),
      Plot.text(labels,{x:d=>d[0],y:d=>d[1],text:d=>d[2],rotate:d=>d[3],fontSize:13,fill:"#111"}),
      Plot.dot(stationX,{x:d=>d,y:(d,i)=>stationY[i],symbol:"triangle",r:6.6,fill:"#707070"}),
      Plot.axisX(tick10,{anchor:"top",tickSize:6,tickPadding:3,fontSize:15.5,label:null,tickFormat:minus}),
      Plot.axisY(tick10,{anchor:"left",tickSize:6,tickPadding:3,fontSize:15.5,label:null,tickFormat:minus}),
      Plot.axisX(tick10,{anchor:"bottom",tickSize:6,fill:"none",label:null}),
      Plot.axisY(tick10,{anchor:"right",tickSize:6,fill:"none",label:null}),
      Plot.axisX(tick5,{anchor:"top",tickSize:4,fill:"none",label:null}),
      Plot.axisX(tick5,{anchor:"bottom",tickSize:4,fill:"none",label:null}),
      Plot.axisY(tick5,{anchor:"left",tickSize:4,fill:"none",label:null}),
      Plot.axisY(tick5,{anchor:"right",tickSize:4,fill:"none",label:null}),
      Plot.text(["km"],{x:d=>-45.2,y:d=>50,dy:-17,fontSize:14,fill:"#222"}),
      Plot.text(["km"],{x:d=>-50,y:d=>45,dx:-22,rotate:90,fontSize:14,fill:"#222"}),
      Plot.frame({stroke:"#111",strokeWidth:2.4}),
      Plot.dot([letter],{x:d=>-44.8,y:d=>-44.6,r:26,fill:"white",stroke:"#000",strokeWidth:6}),
      Plot.text([letter],{x:d=>-44.8,y:d=>-44.6,dy:-2,text:d=>d,fontSize:50,fontWeight:"bold",fill:"#000"})
    ]
  });
  svg.style.left=(left-ML)+"px";svg.style.top=(top-MT)+"px";
  page.appendChild(svg);
}
function colorbar(left,top,width){
  const ml=16,mt=8;
  const svg=Plot.plot({
    width:width+2*ml,height:mt+14+38,marginLeft:ml,marginRight:ml,marginTop:mt,marginBottom:38,
    style:{background:"transparent",overflow:"visible",fontFamily:font,color:"#222"},
    x:{domain:[0,50],axis:null},y:{domain:[0,1],axis:null},color:colorScale,
    marks:[
      Plot.rect(bandLow,{x1:d=>d,x2:d=>d+2,y1:d=>0,y2:d=>1,fill:d=>d,stroke:"#222",strokeWidth:.7}),
      Plot.axisX(barTicks,{anchor:"bottom",tickSize:7,tickPadding:6,fontSize:18,label:null}),
      Plot.frame({stroke:"#111",strokeWidth:3}),
      Plot.dot([0],{x:d=>d,y:d=>.5,dx:-3,symbol:"triangle",rotate:-90,r:4.2,fill:"white",stroke:"#111",strokeWidth:1.5}),
      Plot.dot([50],{x:d=>d,y:d=>.5,dx:3,symbol:"triangle",rotate:90,r:4.2,fill:"#111",stroke:"#111",strokeWidth:1.5})
    ]
  });
  svg.style.left=(left-ml)+"px";svg.style.top=(top-mt)+"px";
  page.appendChild(svg);
}
function text(s,x,y,size){
  const d=document.createElement("div");d.className="t";d.textContent=s;
  d.style.left=x+"px";d.style.top=y+"px";d.style.fontSize=size+"px";page.appendChild(d);
}
function d3box(x,y,w,h){
  const d=document.createElement("div");d.className="d3";d.textContent="D3";
  d.style.left=x+"px";d.style.top=y+"px";d.style.width=w+"px";d.style.height=h+"px";page.appendChild(d);
}
const colX=[54.5,732.5,1411],rowY=[41,837,1643];
panel(colX[0],rowY[0],gridA,outlineA,labelsA,"a");
panel(colX[1],rowY[0],gridB,outlineB,labelsB,"b");
panel(colX[2],rowY[0],gridC,null,labelsC,"c");
panel(colX[0],rowY[1],gridD,outlineD,labelsD,"d");
panel(colX[1],rowY[1],gridE,outlineE,labelsE,"e");
panel(colX[2],rowY[1],gridF,null,labelsF,"f");
panel(colX[0],rowY[2],gridG,outlineG,labelsG,"g");
panel(colX[1],rowY[2],gridH,outlineH,labelsH,"h");
panel(colX[2],rowY[2],gridI,null,labelsI,"i");
colorbar(681,716,702);colorbar(691,1518,707);colorbar(681,2319,702);
text("M2",1031,693,31);text("M1",349,756,31);text("M3",1710,756,31);text("Kagan Angle Misfit (\u00b0)",1031,787,33);
text("M2",1042,1497,31);text("M1",337,1563,31);text("M3",1710,1563,31);text("Kagan Angle Misfit (\u00b0)",1042,1588,33);
text("Kagan Angle Misfit (\u00b0)",1031,2388,33);
[[305,40],[1100,42],[1906,42]].forEach(([y,h])=>{d3box(685,y,48,h);d3box(1363,y,48,h);});
</script></body></html>
